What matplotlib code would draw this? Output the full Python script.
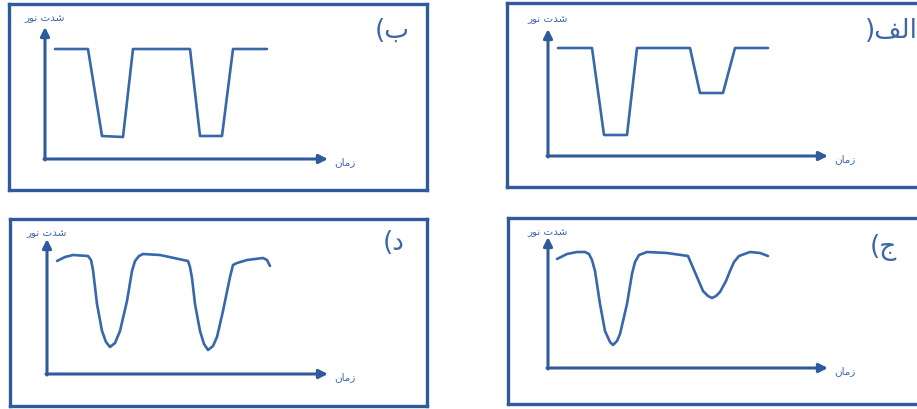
import matplotlib
matplotlib.use('Agg')
import matplotlib.pyplot as plt

# four sketches of light intensity against time (transit light curves)
# arabic text is written in presentation forms, visual order, since matplotlib does no shaping

time_label = "\uFEE5\uFE8E\uFEE3\uFEAF"              # زمان
intensity_label = "\uFEAD\uFEEE\uFEE7 \uFE95\uFEAA\uFEB7"  # شدت نور

# panel letters
letters = ["(\uFE8F", ")\uFED2\uFEDF\uFE8D", "(\uFEA9", "(\uFE9D"]  # ب الف د ج

# curves: time, intensity (one unit ~ one pixel)
t_b = [10, 43, 57, 78, 88, 145, 155, 177, 188, 222]
i_b = [110, 110, 23, 22, 110, 110, 23, 23, 110, 110]

t_alef = [10, 44, 56, 79, 89, 142, 152, 175, 187, 220]
i_alef = [108, 108, 21, 21, 108, 108, 63, 63, 108, 108]

t_d = [10, 18, 26, 41, 44, 46, 50, 55, 59, 63, 68, 73, 80, 85, 88, 92, 96, 113, 141, 143, 145,
       148, 153, 157, 161, 166, 170, 176, 183, 186, 190, 200, 216, 220, 223]
i_d = [113, 117, 119, 118, 114, 104, 70, 43, 32, 27, 31, 43, 73, 103, 113, 118, 120, 119, 113,
       107, 96, 70, 43, 30, 24, 28, 37, 63, 97, 109, 111, 114, 116, 114, 108]

t_j = [9, 19, 29, 37, 41, 44, 47, 52, 57, 62, 65, 69, 72, 79, 84, 87, 91, 99, 119, 140, 143,
       149, 155, 160, 164, 168, 172, 178, 182, 186, 191, 202, 212, 220]
i_j = [109, 114, 116, 116, 114, 108, 97, 64, 37, 26, 23, 27, 34, 64, 94, 106, 113, 116, 115,
       112, 105, 91, 77, 72, 70, 72, 76, 87, 97, 106, 112, 116, 115, 112]

W, H = 917, 410
fig = plt.figure(figsize=(W / 100, H / 100), dpi=100)

border = "#2f5b9c"
line_c = "#3867aa"
text_c = "#3d66a8"

# box (left, right, top, bottom) in px, origin, arrow tips, label spots
panels = [
    dict(box=(9, 427, 5, 191), org=(45, 160), tips=(283, 132), t=t_b, i=i_b,
         ylab=142, let=(330, 129), letter=letters[0]),
    dict(box=(507, 935, 4, 188), org=(548, 157), tips=(280, 127), t=t_alef, i=i_alef,
         ylab=138, let=(317, 126), letter=letters[1]),
    dict(box=(10, 427, 220, 407), org=(47, 375), tips=(281, 135), t=t_d, i=i_d,
         ylab=142, let=(336, 132), letter=letters[2]),
    dict(box=(508, 935, 219, 405), org=(548, 369), tips=(280, 131), t=t_j, i=i_j,
         ylab=137, let=(322, 121), letter=letters[3]),
]

for p in panels:
    l, r, tp, b = p["box"]
    ox, oy = p["org"]
    ax = fig.add_axes([l / W, 1 - b / H, (r - l) / W, (b - tp) / H])
    ax.set_xlim(l - ox, r - ox)
    ax.set_ylim(oy - b, oy - tp)
    ax.set_xticks([]); ax.set_yticks([])
    for s in ax.spines.values():
        s.set_color(border); s.set_linewidth(2.4)

    xt, yt = p["tips"]
    arr = dict(arrowstyle='-|>', color=border, lw=2.2, mutation_scale=13, shrinkA=0, shrinkB=0)
    ax.annotate("", xy=(0, yt), xytext=(0, -1), arrowprops=arr)
    ax.annotate("", xy=(xt, 0), xytext=(-1, 0), arrowprops=arr)

    ax.plot(p["t"], p["i"], color=line_c, lw=1.9, solid_joinstyle='round', solid_capstyle='round')

    ax.text(xt + 6, -2, time_label, ha='left', va='center', fontsize=7.5, color=text_c,
            family='DejaVu Sans')
    ax.text(0, p["ylab"], intensity_label, ha='center', va='center', fontsize=7.5, color=text_c,
            family='DejaVu Sans')
    lx, ly = p["let"]
    ax.text(lx, ly, p["letter"], ha='left', va='center', fontsize=19, color=text_c,
            family='DejaVu Sans')

fig.savefig("out.png", dpi=100)
